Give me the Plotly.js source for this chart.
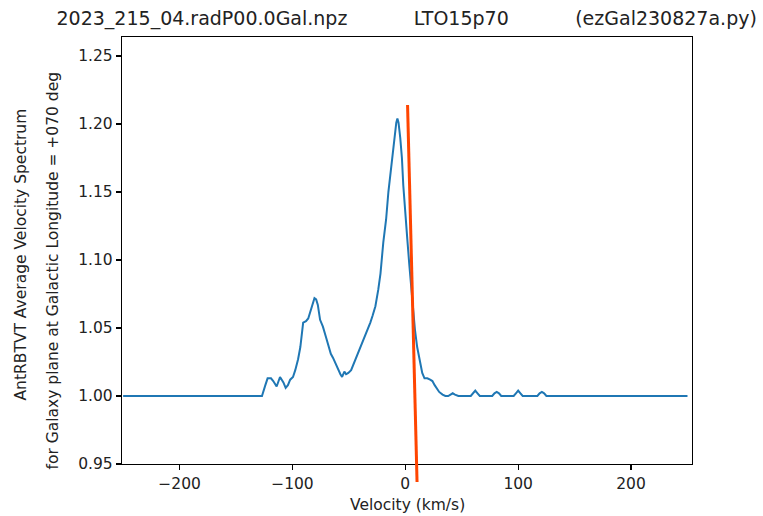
<!DOCTYPE html>
<html>
<head>
<meta charset="utf-8">
<script src="https://cdn.plot.ly/plotly-3.0.1.min.js"></script>
<style>html,body{margin:0;padding:0;background:#fff;}#chart{width:763px;height:516px;}</style>
</head>
<body>
<div id="chart"></div>
<script>
// Velocity (km/s) and averaged spectrum values
const velocity = [-250, -127, -124, -122, -119, -117, -114, -111, -108, -106, -104, -102, -99.5, -97.5, -95, -93, -90.5, -88, -86, -84, -82, -80.5, -79, -77.5, -75.5, -73, -70.5, -68, -66, -64, -61.5, -59, -57.5, -56, -54, -52.5, -50.5, -48, -46, -43, -40, -37, -34, -31, -29, -26.5, -24, -22, -19.5, -17, -15, -13, -11.5, -9.5, -8, -7, -6, -4.5, -3, -1.8, 0, 1.8, 3.5, 5.3, 7, 8.5, 10.5, 13, 15, 17, 19.5, 22, 24, 26, 28, 30, 33, 35.5, 38, 40, 42, 44, 47, 58, 60, 62, 64, 66, 77, 79, 81, 83, 85, 96, 98, 100, 102, 104, 117, 119, 121, 123, 125, 250];
const spectrum = [1.000, 1.000, 1.008, 1.013, 1.013, 1.011, 1.007, 1.014, 1.010, 1.006, 1.008, 1.012, 1.014, 1.019, 1.027, 1.036, 1.054, 1.055, 1.057, 1.063, 1.069, 1.072, 1.071, 1.067, 1.056, 1.051, 1.044, 1.036, 1.031, 1.028, 1.023, 1.019, 1.016, 1.014, 1.018, 1.016, 1.017, 1.019, 1.023, 1.029, 1.036, 1.042, 1.047, 1.054, 1.059, 1.066, 1.078, 1.090, 1.113, 1.130, 1.150, 1.165, 1.176, 1.192, 1.201, 1.204, 1.201, 1.190, 1.175, 1.155, 1.138, 1.115, 1.097, 1.078, 1.060, 1.049, 1.036, 1.026, 1.017, 1.013, 1.013, 1.012, 1.011, 1.008, 1.005, 1.003, 1.001, 1.000, 1.000, 1.001, 1.002, 1.001, 1.000, 1.000, 1.002, 1.004, 1.002, 1.000, 1.000, 1.002, 1.003, 1.002, 1.000, 1.000, 1.002, 1.004, 1.002, 1.000, 1.000, 1.002, 1.003, 1.002, 1.000, 1.000];

// Red marker line endpoints
const redVelocity = [2.0, 10.4];
const redValue = [1.214, 0.9368];

// Ticks
const xTickVals = [-200, -100, 0, 100, 200];
const xTickText = ['\u2212200', '\u2212100', '0', '100', '200'];
const yTickVals = [0.95, 1.00, 1.05, 1.10, 1.15, 1.20, 1.25];
const yTickText = ['0.95', '1.00', '1.05', '1.10', '1.15', '1.20', '1.25'];

const xRange = [-251, 254];
const yRange = [0.95, 1.264];

const titleParts = ['2023_215_04.radP00.0Gal.npz', 'LTO15p70', '(ezGal230827a.py)'];
const yLabel1 = 'AntRBTVT Average Velocity Spectrum';
const yLabel2 = 'for Galaxy plane at Galactic Longitude = +070 deg';
const xLabel = 'Velocity (km/s)';

// geometry (pixels)
const W = 763, H = 516;
const mL = 122, mR = 71, mT = 37, mB = 26;
const axisBottomPx = 464;
const plotH = H - mT - mB;
const d = (H - mB - axisBottomPx) / plotH;
const mainPx = axisBottomPx - mT;
const perPx = (yRange[1] - yRange[0]) / mainPx;
const y2Range = [yRange[1] - plotH * perPx, yRange[1]];

const FONT = 'DejaVu Sans, Liberation Sans, sans-serif';
const TXT = '#222';
const gap = '\u00a0'.repeat(11);

const traces = [
  {x: velocity, y: spectrum, type: 'scatter', mode: 'lines', xaxis: 'x', yaxis: 'y',
   line: {color: '#1f77b4', width: 2}, hoverinfo: 'skip'},
  {x: redVelocity, y: redValue, type: 'scatter', mode: 'lines', xaxis: 'x2', yaxis: 'y2',
   line: {color: '#ff4500', width: 3}, hoverinfo: 'skip'}
];

const axisCommon = {
  showgrid: false, zeroline: false, showline: true, mirror: true,
  linecolor: '#000', linewidth: 1.2, ticks: 'outside', ticklen: 5, tickwidth: 1.1,
  tickcolor: '#000', tickfont: {family: FONT, size: 15.5, color: TXT}
};

const layout = {
  width: W, height: H,
  margin: {l: mL, r: mR, t: mT, b: mB, pad: 0},
  paper_bgcolor: '#fff', plot_bgcolor: 'rgba(0,0,0,0)',
  showlegend: false,
  title: {text: titleParts.join(gap), font: {family: FONT, size: 19, color: TXT},
          x: 406.7 / W, xanchor: 'center', xref: 'container', y: 1 - 18 / H, yanchor: 'middle', yref: 'container'},
  xaxis: Object.assign({}, axisCommon, {domain: [0, 1], range: xRange, anchor: 'y',
          tickmode: 'array', tickvals: xTickVals, ticktext: xTickText}),
  yaxis: Object.assign({}, axisCommon, {domain: [d, 1], range: yRange, anchor: 'x',
          tickmode: 'array', tickvals: yTickVals, ticktext: yTickText}),
  xaxis2: {domain: [0, 1], range: xRange, anchor: 'y2', visible: false},
  yaxis2: {domain: [0, 1], range: y2Range, anchor: 'x2', visible: false},
  annotations: [
    {text: xLabel, xref: 'x domain', yref: 'y domain', x: 0.5, y: 0, xanchor: 'center', yanchor: 'middle',
     yshift: -41, showarrow: false, font: {family: FONT, size: 15.5, color: TXT}},
    {text: yLabel1, xref: 'paper', yref: 'y domain', x: 0, y: 0.5, xanchor: 'center', yanchor: 'middle',
     xshift: 20 - mL, yshift: -4, textangle: -90, showarrow: false, font: {family: FONT, size: 15.5, color: TXT}},
    {text: yLabel2, xref: 'paper', yref: 'y domain', x: 0, y: 0.5, xanchor: 'center', yanchor: 'middle',
     xshift: 52 - mL, yshift: -20, textangle: -90, showarrow: false, font: {family: FONT, size: 15.5, color: TXT}}
  ]
};

Plotly.newPlot('chart', traces, layout, {staticPlot: true, displayModeBar: false});
</script>
</body>
</html>
